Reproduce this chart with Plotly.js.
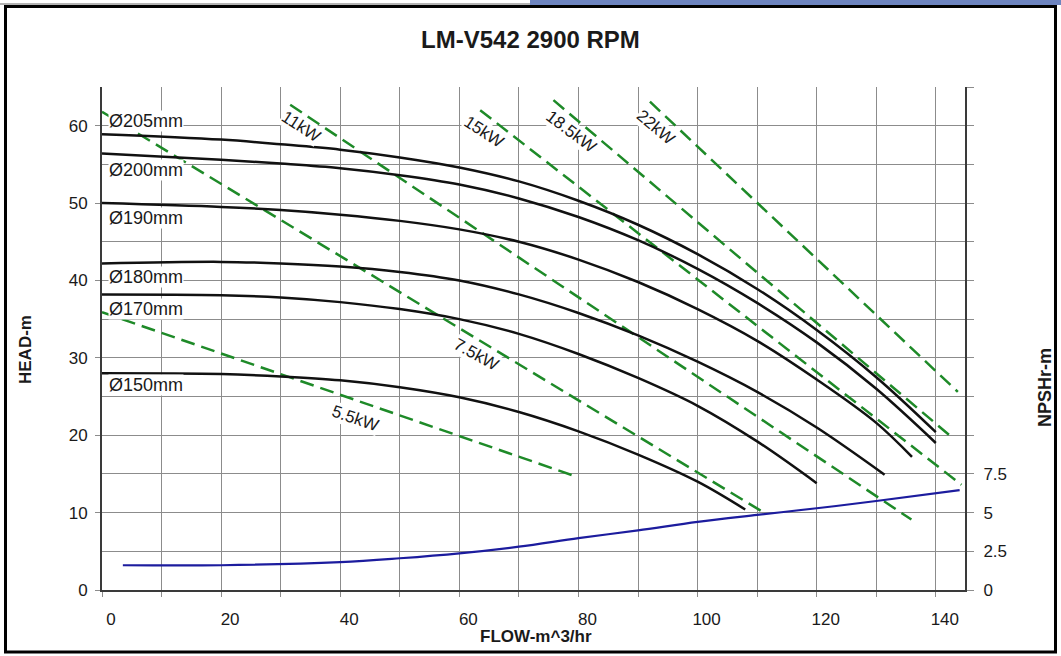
<!DOCTYPE html>
<html>
<head>
<meta charset="utf-8">
<script src="https://cdn.plot.ly/plotly-3.0.1.min.js"></script>
<style>
  html, body { margin: 0; padding: 0; background: #ffffff; }
  #chart { width: 1061px; height: 656px; }
</style>
</head>
<body>
<div id="chart"></div>
<script>
// ---- Data ----
const chartTitle = "LM-V542 2900 RPM";

// Impeller head curves: flow (m^3/hr) and head (m)
const q205 = [0, 20, 30, 40, 50, 60, 70, 80, 90, 100, 110, 120, 130, 140];
const h205 = [58.9, 58.2, 57.6, 56.9, 55.9, 54.6, 52.8, 50.3, 47.2, 43.4, 38.9, 33.6, 27.5, 20.4];
const q200 = [0, 20, 30, 40, 50, 60, 70, 80, 90, 100, 110, 120, 130, 140];
const h200 = [56.4, 55.6, 55.1, 54.5, 53.6, 52.4, 50.6, 48.2, 45.2, 41.5, 37.1, 32.0, 26.0, 19.0];
const q190 = [0, 20, 30, 40, 50, 60, 70, 80, 90, 100, 110, 120, 130, 136];
const h190 = [50.0, 49.5, 49.1, 48.5, 47.7, 46.6, 45.0, 42.7, 39.8, 36.3, 32.2, 27.2, 21.6, 17.2];
const q180 = [0, 20, 30, 40, 50, 60, 70, 80, 90, 100, 110, 120, 131.4];
const h180 = [42.2, 42.4, 42.2, 41.8, 41.1, 40.0, 38.2, 35.8, 32.9, 29.5, 25.6, 21.0, 14.9];
const q170 = [0, 20, 30, 40, 50, 60, 70, 80, 90, 100, 110, 120];
const h170 = [38.2, 38.1, 37.8, 37.2, 36.3, 35.0, 33.1, 30.5, 27.4, 23.8, 19.2, 13.8];
const q150 = [0, 20, 30, 40, 50, 60, 70, 80, 90, 100, 108];
const h150 = [28.0, 27.9, 27.6, 27.1, 26.2, 24.9, 23.0, 20.5, 17.5, 14.0, 10.4];

const diameters = ["Ø205mm", "Ø200mm", "Ø190mm", "Ø180mm", "Ø170mm", "Ø150mm"];
const diameterLabelHead = [60.6, 54.3, 48.1, 40.5, 36.3, 26.5];

// Power lines (kW): end points flow / head
const q5_5 = [0, 79.1];     const h5_5 = [35.9, 14.8];
const q7_5 = [0, 110.7];    const h7_5 = [61.8, 10.2];
const q11 = [31.6, 135.9];  const h11 = [62.7, 9.1];
const q15 = [63.5, 144.3];  const h15 = [62.0, 13.6];
const q18_5 = [75.8, 142.3]; const h18_5 = [63.3, 20.0];
const q22 = [92.0, 143.7];  const h22 = [63.1, 25.6];

const powerNames = ["5.5kW", "7.5kW", "11kW", "15kW", "18.5kW", "22kW"];
const powerLabelFlow = [42.5, 62.8, 33.4, 64.0, 78.7, 93.0];
const powerLabelHead = [22.1, 30.4, 59.9, 59.2, 59.2, 59.8];
const powerLabelAngle = [19, 29, 33, 33, 37, 40];

// NPSHr curve
const qNpsh = [3.5, 20, 40, 50, 60, 70, 80, 90, 100, 110, 120, 130, 144];
const vNpsh = [1.6, 1.6, 1.8, 2.05, 2.37, 2.8, 3.35, 3.85, 4.4, 4.85, 5.28, 5.75, 6.45];

// Tick labels
const xTickVals = [0, 10, 20, 30, 40, 50, 60, 70, 80, 90, 100, 110, 120, 130, 140];
const xTickText = ["0", "", "20", "", "40", "", "60", "", "80", "", "100", "", "120", "", "140"];
const yTickVals = [0, 10, 20, 30, 40, 50, 60];
const yTickText = ["0", "10", "20", "30", "40", "50", "60"];
const y2TickVals = [0, 2.5, 5, 7.5, 10, 12.5, 15, 17.5, 20, 22.5, 25, 27.5, 30, 32.5];
const y2TickText = ["0", "2.5", "5", "7.5", "", "", "", "", "", "", "", "", "", ""];

// ---- Styling ----
const FONT = "Liberation Sans, Arial, sans-serif";
const TXT = "#1a1a1a";
const GRID = "#8c8c8c";
const AXIS = "#3a3a3a";
const BLACK = "#111111";
const GREEN = "#1e8a28";
const BLUE = "#1c1c9e";
const DASH = "14px,7px";

const L = 102, R = 96, T = 87, B = 66, W = 1061, H = 656;
const PW = W - L - R, PH = H - T - B;
const px = v => (v - L) / PW;
const py = v => (H - B - v) / PH;

const headSets = [[q205, h205], [q200, h200], [q190, h190], [q180, h180], [q170, h170], [q150, h150]];
const powerSets = [[q5_5, h5_5], [q7_5, h7_5], [q11, h11], [q15, h15], [q18_5, h18_5], [q22, h22]];

const traces = [];
powerSets.forEach((s, i) => traces.push({
  x: s[0], y: s[1], type: "scatter", mode: "lines", name: powerNames[i],
  line: { color: GREEN, width: 2.5, dash: DASH }, hoverinfo: "skip", showlegend: false
}));
headSets.forEach((s, i) => traces.push({
  x: s[0], y: s[1], type: "scatter", mode: "lines", name: diameters[i],
  line: { color: BLACK, width: 2.5, shape: "spline", smoothing: 1 }, hoverinfo: "skip", showlegend: false
}));
traces.push({
  x: qNpsh, y: vNpsh, type: "scatter", mode: "lines", name: "NPSHr", yaxis: "y2",
  line: { color: BLUE, width: 2.2, shape: "spline", smoothing: 1 }, hoverinfo: "skip", showlegend: false
});

const annotations = [];
diameters.forEach((d, i) => annotations.push({
  x: 1.0, y: diameterLabelHead[i], xref: "x", yref: "y", text: d, showarrow: false,
  xanchor: "left", yanchor: "middle", font: { family: FONT, size: 18, color: TXT },
  bgcolor: "#ffffff", borderpad: 0
}));
powerNames.forEach((p, i) => annotations.push({
  x: powerLabelFlow[i], y: powerLabelHead[i], xref: "x", yref: "y", text: p, showarrow: false,
  xanchor: "center", yanchor: "middle", textangle: powerLabelAngle[i],
  font: { family: FONT, size: 17, color: TXT }, bgcolor: "#ffffff", borderpad: 0
}));
annotations.push({
  x: px(25), y: py(350), xref: "paper", yref: "paper", text: "<b>HEAD-m</b>", showarrow: false,
  textangle: -90, xanchor: "center", yanchor: "middle", font: { family: FONT, size: 17, color: TXT }
});
annotations.push({
  x: px(1045), y: py(388), xref: "paper", yref: "paper", text: "<b>NPSHr-m</b>", showarrow: false,
  textangle: -90, xanchor: "center", yanchor: "middle", font: { family: FONT, size: 18, color: TXT }
});
annotations.push({
  x: px(536), y: py(636), xref: "paper", yref: "paper", text: "<b>FLOW-m^3/hr</b>", showarrow: false,
  xanchor: "center", yanchor: "middle", font: { family: FONT, size: 17, color: TXT }
});

const shapes = [
  { type: "rect", xref: "paper", yref: "paper", x0: px(530), x1: px(1061), y0: py(5), y1: py(0),
    fillcolor: "#6d84bf", line: { width: 0 } },
  { type: "line", xref: "paper", yref: "paper", x0: px(0), x1: px(530), y0: py(4), y1: py(4),
    line: { color: "#9a9a9a", width: 1.5 } },
  { type: "rect", xref: "paper", yref: "paper", x0: px(5.5), x1: px(1055.5), y0: py(652), y1: py(6.5),
    line: { color: "#000000", width: 3 } }
];

const layout = {
  width: W, height: H,
  margin: { l: L, r: R, t: T, b: B, pad: 0 },
  paper_bgcolor: "#ffffff", plot_bgcolor: "#ffffff",
  title: { text: "<b>" + chartTitle + "</b>", x: 0.5, xref: "container", y: 1 - 40 / H, yref: "container",
           yanchor: "middle", font: { family: FONT, size: 24, color: TXT } },
  font: { family: FONT, color: TXT },
  xaxis: {
    range: [0, 144.9], tickmode: "array", tickvals: xTickVals, ticktext: xTickText,
    showgrid: true, gridcolor: GRID, gridwidth: 1, zeroline: false,
    showline: true, linecolor: AXIS, linewidth: 2, mirror: false,
    ticks: "outside", ticklen: 5, tickcolor: GRID, tickwidth: 1,
    ticklabelstandoff: 8, ticklabelshift: 9,
    tickfont: { family: FONT, size: 17, color: TXT }, fixedrange: true
  },
  yaxis: {
    range: [0, 65], tickmode: "array", tickvals: yTickVals, ticktext: yTickText,
    showgrid: true, gridcolor: GRID, gridwidth: 1, zeroline: false,
    minor: { dtick: 5, tick0: 0, showgrid: true, gridcolor: GRID, gridwidth: 1, ticks: "" },
    showline: true, linecolor: AXIS, linewidth: 2,
    ticks: "outside", ticklen: 5, tickcolor: GRID, tickwidth: 1, ticklabelstandoff: 4,
    tickfont: { family: FONT, size: 17, color: TXT }, fixedrange: true
  },
  yaxis2: {
    range: [0, 32.5], overlaying: "y", side: "right", tickmode: "array",
    tickvals: y2TickVals, ticktext: y2TickText, showgrid: false, zeroline: false,
    showline: true, linecolor: AXIS, linewidth: 2,
    ticks: "outside", ticklen: 7, tickcolor: GRID, tickwidth: 1, ticklabelstandoff: 6,
    tickfont: { family: FONT, size: 17, color: TXT }, fixedrange: true
  },
  annotations: annotations,
  shapes: shapes
};

Plotly.newPlot("chart", traces, layout, { displayModeBar: false, staticPlot: true });
</script>
</body>
</html>
